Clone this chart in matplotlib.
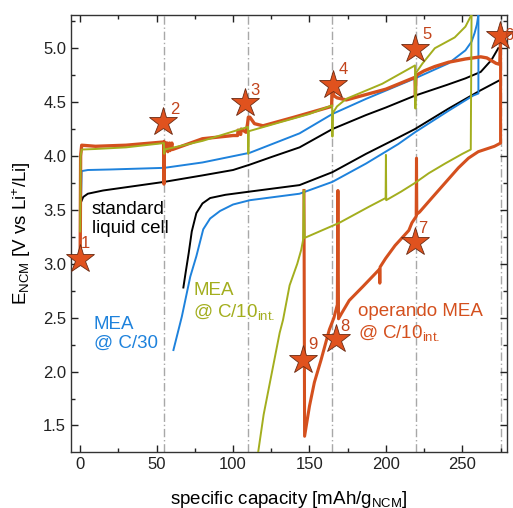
import matplotlib
matplotlib.use("Agg")
import matplotlib.pyplot as plt
from matplotlib.ticker import MultipleLocator

plt.rcParams['font.family'] = ['Liberation Sans', 'DejaVu Sans']
plt.rcParams['mathtext.default'] = 'regular'

# ---------------- data ----------------
# standard liquid cell (black)
bk_c_x = [0, 0.5, 2, 5, 15, 30, 55, 80, 100, 111, 125, 143.5, 165, 187, 200, 219, 240, 252, 262, 269, 273.5]
bk_c_y = [3.50, 3.57, 3.62, 3.65, 3.68, 3.71, 3.76, 3.82, 3.87, 3.92, 3.99, 4.08, 4.25, 4.38, 4.45, 4.56, 4.66, 4.72, 4.78, 4.89, 5.00]
bk_d_x = [274, 262, 241, 219, 208, 187, 165, 143.5, 111, 95, 85, 80, 76, 73, 71, 69, 67.5]
bk_d_y = [4.70, 4.61, 4.44, 4.25, 4.17, 4.02, 3.85, 3.73, 3.67, 3.64, 3.61, 3.56, 3.47, 3.30, 3.10, 2.92, 2.78]

# MEA @ C/30 (blue)
bl_c_x = [0, 0.3, 1, 5, 20, 55, 80, 111, 143.5, 165, 187, 219, 241, 252, 256, 258, 259.5, 260.5]
bl_c_y = [3.20, 3.40, 3.86, 3.87, 3.875, 3.89, 3.94, 4.03, 4.21, 4.39, 4.53, 4.72, 4.86, 4.98, 5.06, 5.14, 5.22, 5.31]
bl_d_x = [260.5, 260.5, 257, 241, 219, 208, 187, 165, 143.5, 111, 100, 91.5, 85, 80.5, 76, 72, 66.5, 61]
bl_d_y = [5.31, 4.58, 4.56, 4.42, 4.22, 4.11, 3.93, 3.76, 3.65, 3.59, 3.55, 3.49, 3.42, 3.32, 3.07, 2.88, 2.51, 2.20]

# MEA @ C/10 int. (olive)
gr_c_x = [0, 0.3, 1, 10, 30, 54.8, 55, 55.3, 80, 109.8, 110, 110.3, 130, 150, 164.8, 165, 165.3, 168, 174, 197.6,
          219, 219.3, 219.6, 224, 232, 245, 252, 256]
gr_c_y = [3.30, 4.00, 4.06, 4.065, 4.08, 4.12, 4.02, 4.06, 4.14, 4.27, 4.02, 4.23, 4.31, 4.39, 4.47, 4.18, 4.40, 4.46, 4.53, 4.67,
          4.84, 4.44, 4.77, 4.86, 5.00, 5.10, 5.20, 5.31]
gr_d_x = [256, 255.5, 250, 238.7, 228, 219, 210, 200.2, 200, 199.8, 189, 169.5, 146.8, 146.3, 145.8, 144.6, 142, 139,
          137, 132.7, 130.5, 124, 120, 116.4]
gr_d_y = [5.31, 4.06, 4.02, 3.93, 3.84, 3.75, 3.67, 3.59, 4.01, 3.61, 3.53, 3.38, 3.24, 3.68, 3.22, 3.13, 3.00, 2.88,
          2.80, 2.48, 2.36, 1.89, 1.60, 1.25]

# operando MEA @ C/10 int. (orange)
or_c_x = [0, 0.3, 1, 10, 30, 54.6, 54.8, 55, 56, 57, 57.3, 58.5, 58.8, 60, 60.3, 80, 100, 103, 103.3, 105, 105.3,
          108.5, 109.5, 110, 111, 114, 119.6, 140, 164.5, 164.8, 165.2, 166, 168, 174, 200, 219,
          219.3, 219.6, 220, 225, 232, 241, 252, 262, 266, 272, 274.5, 275]
or_c_y = [3.05, 4.00, 4.10, 4.09, 4.10, 4.13, 3.74, 4.13, 4.12, 4.12, 4.04, 4.12, 4.05, 4.12, 4.06, 4.16, 4.19, 4.19, 4.24, 4.20, 4.25,
          4.22, 4.30, 4.36, 4.36, 4.30, 4.28, 4.36, 4.46, 4.67, 4.60, 4.56, 4.54, 4.52, 4.62, 4.73,
          4.55, 4.72, 4.75, 4.79, 4.83, 4.87, 4.90, 4.92, 4.91, 4.86, 4.85, 5.12]
or_d_x = [275, 275, 271, 260.4, 254, 247.4, 238.7, 230, 222, 220.2, 220, 219.8, 217, 215, 206, 199.8, 196.2, 196,
          195.8, 185, 176, 171, 169, 168.6, 168.2, 166, 163, 157.6, 153.2, 150, 146.8, 146.4]
or_d_y = [5.12, 4.12, 4.09, 4.04, 3.98, 3.89, 3.75, 3.61, 3.48, 3.46, 3.98, 3.44, 3.38, 3.31, 3.17, 3.05, 2.97, 2.82,
          2.95, 2.79, 2.66, 2.54, 2.49, 3.68, 2.62, 2.50, 2.39, 2.11, 1.90, 1.68, 1.40, 3.68]

# stars (operando measurement points)
star_x = [0, 54, 107.7, 165.4, 219.3, 274.4, 218.8, 167.2, 145.8]
star_y = [3.04, 4.32, 4.49, 4.66, 4.99, 5.11, 3.20, 2.30, 2.11]
star_lbl = ['1', '2', '3', '4', '5', '6', '7', '8', '9']
star_lbl_x = [3.1, 62, 114, 172, 227, 280.5, 224.4, 173, 152]
star_lbl_y = [3.19, 4.43, 4.61, 4.80, 5.13, 5.12, 3.33, 2.42, 2.25]

vlines_x = [55, 110, 165, 220, 275]

x_ticks = [0, 50, 100, 150, 200, 250]
y_ticks = [1.5, 2.0, 2.5, 3.0, 3.5, 4.0, 4.5, 5.0]

# ---------------- plot ----------------
C_BLACK = '#000000'
C_BLUE = '#1E82DC'
C_OLIVE = '#A3AE1E'
C_ORANGE = '#D4501E'
C_STAR = '#E0521E'
C_NUM = '#C2441C'

fig = plt.figure(figsize=(5.13, 5.08), dpi=100)
ax = fig.add_axes([71/513, 56/508, 436/513, 437/508])

for xv in vlines_x:
    ax.axvline(xv, color='#A8A8A8', lw=1.0, ls=(0, (6, 2, 1, 2)), zorder=1)

ax.plot(bk_c_x, bk_c_y, color=C_BLACK, lw=1.4, zorder=3)
ax.plot(bk_d_x, bk_d_y, color=C_BLACK, lw=1.4, zorder=3)
ax.plot(bl_c_x, bl_c_y, color=C_BLUE, lw=1.4, zorder=3)
ax.plot(bl_d_x, bl_d_y, color=C_BLUE, lw=1.4, zorder=3)
ax.plot(or_c_x, or_c_y, color=C_ORANGE, lw=2.4, zorder=4)
ax.plot(or_d_x, or_d_y, color=C_ORANGE, lw=2.2, zorder=4)
ax.plot(gr_c_x, gr_c_y, color=C_OLIVE, lw=1.4, zorder=5)
ax.plot(gr_d_x, gr_d_y, color=C_OLIVE, lw=1.4, zorder=5)

ax.plot(star_x, star_y, ls='none', marker='*', ms=21, mfc=C_STAR, mec='#6a2a12', mew=0.6, zorder=8, clip_on=False)
for lx, ly, t in zip(star_lbl_x, star_lbl_y, star_lbl):
    ax.text(lx, ly, t, color=C_NUM, fontsize=12, ha='center', va='center', zorder=9, clip_on=False)

ax.text(7.7, 3.58, 'standard\nliquid cell', color=C_BLACK, fontsize=13.5, ha='left', va='top', linespacing=1.15)
ax.text(9, 2.52, 'MEA\n@ C/30', color=C_BLUE, fontsize=13.5, ha='left', va='top', linespacing=1.2)
ax.text(74, 2.83, 'MEA\n@ C/10$_{int.}$', color=C_OLIVE, fontsize=13.5, ha='left', va='top', linespacing=1.2)
ax.text(182, 2.64, 'operando MEA\n@ C/10$_{int.}$', color=C_ORANGE, fontsize=13.5, ha='left', va='top', linespacing=1.2)

ax.set_xlim(-6, 279.2)
ax.set_ylim(1.254, 5.308)
ax.set_xticks(x_ticks)
ax.set_yticks(y_ticks)
ax.xaxis.set_minor_locator(MultipleLocator(25))
ax.yaxis.set_minor_locator(MultipleLocator(0.25))
ax.tick_params(which='both', direction='in', top=True, right=True, labelsize=12, colors='#222222')
ax.tick_params(which='major', length=5, width=1)
ax.tick_params(which='minor', length=3, width=1)
for s in ax.spines.values():
    s.set_linewidth(1.0)
    s.set_color('#333333')

ax.set_xlabel('specific capacity [mAh/g$_{NCM}$]', fontsize=13.5, labelpad=12)
ax.set_ylabel('E$_{NCM}$ [V vs Li$^{+}$/Li]', fontsize=13.5, labelpad=7)

fig.savefig('out.png', dpi=100)
